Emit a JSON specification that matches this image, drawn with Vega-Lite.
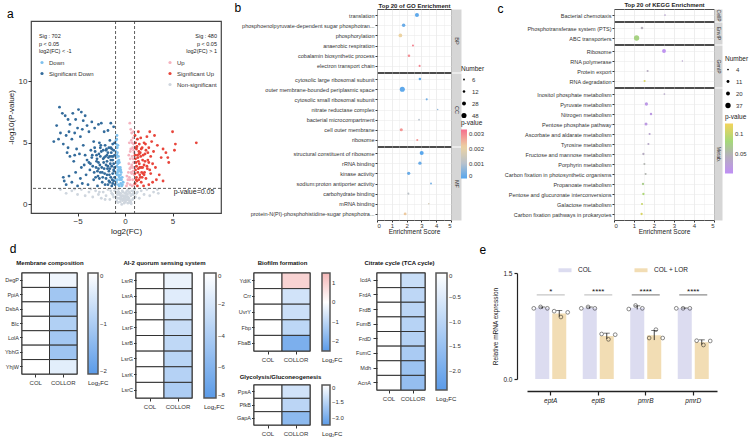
{
  "$schema": "https://vega.github.io/schema/vega-lite/v6.json",
  "background": "white",
  "padding": {"left": 3, "top": 0, "right": 0, "bottom": 0},
  "config": {
    "font": "Liberation Sans",
    "view": {"stroke": "#4d4d4d", "strokeWidth": 1},
    "axis": {"labelColor": "#333333", "titleColor": "#222222", "titleFontWeight": "normal", "labelFontSize": 6, "titleFontSize": 7, "tickColor": "#333333", "domainColor": "#333333", "gridColor": "#ebebeb", "gridWidth": 0.6},
    "legend": {"labelFontSize": 6, "titleFontSize": 6.5, "titleFontWeight": "normal", "labelColor": "#333333", "titleColor": "#222222"},
    "title": {"fontWeight": "normal", "color": "#000000"}
  },
  "datasets": {
    "volcano": [
      {"x":-6.8,"y":1.2,"c":"N"},{"x":-6.2,"y":0.9,"c":"N"},{"x":-5.6,"y":1.1,"c":"N"},{"x":-5.0,"y":0.8,"c":"N"},{"x":-4.6,"y":1.2,"c":"N"},{"x":-4.2,"y":0.7,"c":"N"},{"x":-3.8,"y":1.0,"c":"N"},{"x":-3.4,"y":0.6,"c":"N"},{"x":-3.1,"y":1.1,"c":"N"},{"x":-2.8,"y":0.8,"c":"N"},{"x":-2.5,"y":0.5,"c":"N"},{"x":-2.3,"y":1.0,"c":"N"},{"x":-2.0,"y":0.7,"c":"N"},{"x":-1.8,"y":1.2,"c":"N"},{"x":-1.6,"y":0.4,"c":"N"},{"x":-1.4,"y":0.9,"c":"N"},{"x":-1.2,"y":0.6,"c":"N"},{"x":-1.1,"y":1.1,"c":"N"},{"x":-0.9,"y":0.3,"c":"N"},{"x":-0.8,"y":0.8,"c":"N"},{"x":-0.7,"y":1.2,"c":"N"},{"x":-0.6,"y":0.5,"c":"N"},{"x":-0.5,"y":0.2,"c":"N"},{"x":-0.45,"y":0.9,"c":"N"},{"x":-0.4,"y":0.6,"c":"N"},{"x":-0.3,"y":1.1,"c":"N"},{"x":-0.25,"y":0.3,"c":"N"},{"x":-0.2,"y":0.7,"c":"N"},{"x":-0.1,"y":0.1,"c":"N"},{"x":-0.05,"y":0.5,"c":"N"},{"x":0.0,"y":0.9,"c":"N"},{"x":0.05,"y":0.2,"c":"N"},{"x":0.1,"y":0.6,"c":"N"},{"x":0.15,"y":1.0,"c":"N"},{"x":0.2,"y":0.4,"c":"N"},{"x":0.25,"y":0.8,"c":"N"},{"x":0.3,"y":0.1,"c":"N"},{"x":0.35,"y":1.2,"c":"N"},{"x":0.4,"y":0.5,"c":"N"},{"x":0.5,"y":0.9,"c":"N"},{"x":0.55,"y":0.3,"c":"N"},{"x":0.6,"y":0.7,"c":"N"},{"x":0.7,"y":1.1,"c":"N"},{"x":0.8,"y":0.4,"c":"N"},{"x":0.9,"y":0.8,"c":"N"},{"x":1.0,"y":1.2,"c":"N"},{"x":1.1,"y":0.6,"c":"N"},{"x":1.3,"y":1.0,"c":"N"},{"x":1.5,"y":0.5,"c":"N"},{"x":1.7,"y":1.1,"c":"N"},{"x":2.0,"y":0.8,"c":"N"},{"x":2.3,"y":1.2,"c":"N"},{"x":2.6,"y":0.7,"c":"N"},{"x":3.0,"y":1.0,"c":"N"},{"x":3.4,"y":1.2,"c":"N"},{"x":3.5,"y":0.9,"c":"N"},{"x":-0.35,"y":0.0,"c":"N"},{"x":0.45,"y":0.15,"c":"N"},{"x":-0.15,"y":0.4,"c":"N"},{"x":0.65,"y":0.05,"c":"N"},{"x":-0.55,"y":0.75,"c":"N"},{"x":0.85,"y":1.05,"c":"N"},{"x":-1.0,"y":1.25,"c":"N"},{"x":-3.6,"y":1.25,"c":"N"},{"x":-5.3,"y":1.25,"c":"N"},{"x":-0.75,"y":0.15,"c":"N"},{"x":0.12,"y":0.35,"c":"N"},{"x":-0.65,"y":1.0,"c":"N"},
      {"x":-0.95,"y":0.6,"c":"N"},{"x":-0.85,"y":1.0,"c":"N"},{"x":-0.75,"y":0.5,"c":"N"},{"x":-0.6,"y":0.9,"c":"N"},{"x":-0.45,"y":0.4,"c":"N"},{"x":-0.35,"y":0.7,"c":"N"},{"x":-0.2,"y":1.0,"c":"N"},{"x":-0.1,"y":0.6,"c":"N"},{"x":0.0,"y":0.3,"c":"N"},{"x":0.1,"y":0.9,"c":"N"},{"x":0.2,"y":1.1,"c":"N"},{"x":0.3,"y":0.6,"c":"N"},{"x":0.45,"y":1.0,"c":"N"},{"x":0.6,"y":0.2,"c":"N"},{"x":0.75,"y":0.8,"c":"N"},{"x":0.9,"y":0.5,"c":"N"},{"x":1.2,"y":0.9,"c":"N"},{"x":-1.3,"y":0.8,"c":"N"},{"x":-1.5,"y":1.1,"c":"N"},{"x":-2.1,"y":0.4,"c":"N"},{"x":-2.7,"y":1.0,"c":"N"},{"x":0.05,"y":0.7,"c":"N"},{"x":-0.3,"y":0.45,"c":"N"},{"x":0.35,"y":0.35,"c":"N"},
      {"x":0.5,"y":6.6,"c":"U"},{"x":0.6,"y":6.1,"c":"U"},{"x":0.7,"y":5.8,"c":"U"},{"x":0.85,"y":5.4,"c":"U"},{"x":0.9,"y":4.9,"c":"U"},{"x":0.95,"y":4.2,"c":"U"},{"x":0.8,"y":4.6,"c":"U"},{"x":0.75,"y":3.9,"c":"U"},{"x":0.7,"y":3.2,"c":"U"},{"x":0.65,"y":2.6,"c":"U"},{"x":0.6,"y":4.5,"c":"U"},{"x":0.55,"y":3.7,"c":"U"},{"x":0.5,"y":2.9,"c":"U"},{"x":0.45,"y":2.2,"c":"U"},{"x":0.4,"y":3.3,"c":"U"},{"x":0.35,"y":2.6,"c":"U"},{"x":0.3,"y":2.0,"c":"U"},{"x":0.25,"y":1.7,"c":"U"},{"x":0.2,"y":2.3,"c":"U"},{"x":0.15,"y":1.5,"c":"U"},{"x":0.9,"y":3.4,"c":"U"},{"x":0.85,"y":2.7,"c":"U"},{"x":0.8,"y":2.0,"c":"U"},{"x":0.95,"y":1.6,"c":"U"},{"x":0.65,"y":5.2,"c":"U"},{"x":0.4,"y":4.0,"c":"U"},{"x":0.55,"y":1.6,"c":"U"},{"x":0.75,"y":1.5,"c":"U"},{"x":0.98,"y":3.0,"c":"U"},{"x":0.45,"y":5.0,"c":"U"},
      {"x":0.9,"y":4.4,"c":"U"},{"x":0.85,"y":3.7,"c":"U"},{"x":0.8,"y":3.0,"c":"U"},{"x":0.7,"y":2.5,"c":"U"},{"x":0.6,"y":3.0,"c":"U"},{"x":0.5,"y":2.0,"c":"U"},{"x":0.95,"y":2.4,"c":"U"},{"x":0.75,"y":5.0,"c":"U"},{"x":0.55,"y":4.3,"c":"U"},{"x":0.88,"y":5.9,"c":"U"},
      {"x":1.05,"y":5.6,"c":"SU"},{"x":1.1,"y":5.0,"c":"SU"},{"x":1.2,"y":4.5,"c":"SU"},{"x":1.05,"y":4.0,"c":"SU"},{"x":1.15,"y":3.4,"c":"SU"},{"x":1.1,"y":2.8,"c":"SU"},{"x":1.2,"y":2.2,"c":"SU"},{"x":1.05,"y":1.7,"c":"SU"},{"x":1.3,"y":5.3,"c":"SU"},{"x":1.35,"y":3.8,"c":"SU"},{"x":1.4,"y":2.9,"c":"SU"},{"x":1.3,"y":1.5,"c":"SU"},{"x":1.5,"y":4.9,"c":"SU"},{"x":1.5,"y":3.3,"c":"SU"},{"x":1.55,"y":2.4,"c":"SU"},{"x":1.6,"y":4.2,"c":"SU"},{"x":1.7,"y":3.0,"c":"SU"},{"x":1.7,"y":1.8,"c":"SU"},{"x":1.8,"y":4.6,"c":"SU"},{"x":1.85,"y":3.6,"c":"SU"},{"x":1.9,"y":2.5,"c":"SU"},{"x":2.0,"y":5.0,"c":"SU"},{"x":2.0,"y":3.2,"c":"SU"},{"x":2.1,"y":4.1,"c":"SU"},{"x":2.2,"y":2.1,"c":"SU"},{"x":2.3,"y":5.5,"c":"SU"},{"x":2.4,"y":3.6,"c":"SU"},{"x":2.5,"y":4.6,"c":"SU"},{"x":2.6,"y":2.8,"c":"SU"},{"x":2.7,"y":3.9,"c":"SU"},{"x":2.8,"y":5.1,"c":"SU"},{"x":2.9,"y":1.8,"c":"SU"},{"x":3.0,"y":4.3,"c":"SU"},{"x":3.2,"y":3.0,"c":"SU"},{"x":3.4,"y":4.8,"c":"SU"},{"x":3.6,"y":2.4,"c":"SU"},{"x":3.8,"y":3.8,"c":"SU"},{"x":4.0,"y":4.5,"c":"SU"},{"x":4.3,"y":4.2,"c":"SU"},{"x":4.5,"y":3.8,"c":"SU"},{"x":4.6,"y":3.4,"c":"SU"},{"x":5.0,"y":5.9,"c":"SU"},{"x":5.2,"y":4.4,"c":"SU"},{"x":5.3,"y":4.9,"c":"SU"},{"x":7.5,"y":5.0,"c":"SU"},{"x":4.0,"y":1.9,"c":"SU"},{"x":3.3,"y":2.0,"c":"SU"},{"x":2.5,"y":1.6,"c":"SU"},{"x":1.25,"y":4.7,"c":"SU"},{"x":1.45,"y":4.3,"c":"SU"},{"x":1.65,"y":5.4,"c":"SU"},{"x":2.15,"y":4.9,"c":"SU"},{"x":1.95,"y":1.5,"c":"SU"},{"x":1.15,"y":2.0,"c":"SU"},{"x":3.1,"y":5.6,"c":"SU"},{"x":2.6,"y":5.9,"c":"SU"},{"x":1.4,"y":5.9,"c":"SU"},{"x":1.75,"y":2.6,"c":"SU"},{"x":2.35,"y":2.9,"c":"SU"},{"x":2.05,"y":2.6,"c":"SU"},
      {"x":1.05,"y":2.5,"c":"SU"},{"x":1.1,"y":3.7,"c":"SU"},{"x":1.15,"y":4.6,"c":"SU"},{"x":1.2,"y":3.1,"c":"SU"},{"x":1.25,"y":1.9,"c":"SU"},{"x":1.3,"y":4.0,"c":"SU"},{"x":1.35,"y":2.6,"c":"SU"},{"x":1.4,"y":3.5,"c":"SU"},{"x":1.45,"y":2.0,"c":"SU"},{"x":1.5,"y":4.1,"c":"SU"},{"x":1.55,"y":3.0,"c":"SU"},{"x":1.6,"y":2.2,"c":"SU"},{"x":1.65,"y":3.9,"c":"SU"},{"x":1.7,"y":4.5,"c":"SU"},{"x":1.8,"y":2.2,"c":"SU"},{"x":1.85,"y":3.0,"c":"SU"},{"x":1.9,"y":4.0,"c":"SU"},{"x":2.0,"y":2.4,"c":"SU"},{"x":2.1,"y":3.5,"c":"SU"},{"x":2.2,"y":4.4,"c":"SU"},{"x":2.3,"y":3.1,"c":"SU"},{"x":2.4,"y":4.2,"c":"SU"},{"x":2.5,"y":3.4,"c":"SU"},{"x":2.7,"y":2.5,"c":"SU"},{"x":2.9,"y":3.3,"c":"SU"},
      {"x":-0.95,"y":5.2,"c":"D"},{"x":-0.9,"y":4.6,"c":"D"},{"x":-0.92,"y":3.8,"c":"D"},{"x":-0.88,"y":3.1,"c":"D"},{"x":-0.85,"y":2.4,"c":"D"},{"x":-0.9,"y":1.8,"c":"D"},{"x":-0.8,"y":4.2,"c":"D"},{"x":-0.78,"y":3.5,"c":"D"},{"x":-0.75,"y":2.8,"c":"D"},{"x":-0.8,"y":2.0,"c":"D"},{"x":-0.7,"y":3.9,"c":"D"},{"x":-0.68,"y":3.0,"c":"D"},{"x":-0.65,"y":2.3,"c":"D"},{"x":-0.7,"y":1.6,"c":"D"},{"x":-0.6,"y":3.4,"c":"D"},{"x":-0.58,"y":2.7,"c":"D"},{"x":-0.55,"y":2.0,"c":"D"},{"x":-0.5,"y":3.0,"c":"D"},{"x":-0.48,"y":2.4,"c":"D"},{"x":-0.45,"y":1.7,"c":"D"},{"x":-0.4,"y":2.6,"c":"D"},{"x":-0.38,"y":2.0,"c":"D"},{"x":-0.3,"y":2.2,"c":"D"},{"x":-0.28,"y":1.6,"c":"D"},{"x":-0.2,"y":1.8,"c":"D"},{"x":-0.85,"y":5.6,"c":"D"},{"x":-0.98,"y":4.3,"c":"D"},{"x":-0.62,"y":1.5,"c":"D"},{"x":-0.35,"y":1.5,"c":"D"},{"x":-0.75,"y":4.8,"c":"D"},
      {"x":-0.95,"y":2.5,"c":"D"},{"x":-0.9,"y":3.4,"c":"D"},{"x":-0.85,"y":4.0,"c":"D"},{"x":-0.8,"y":2.6,"c":"D"},{"x":-0.75,"y":3.3,"c":"D"},{"x":-0.7,"y":2.4,"c":"D"},{"x":-0.65,"y":3.6,"c":"D"},{"x":-0.6,"y":2.2,"c":"D"},{"x":-0.55,"y":2.9,"c":"D"},{"x":-0.5,"y":2.1,"c":"D"},{"x":-0.45,"y":2.8,"c":"D"},{"x":-0.97,"y":2.0,"c":"D"},{"x":-0.93,"y":4.9,"c":"D"},{"x":-0.88,"y":5.3,"c":"D"},{"x":-0.82,"y":4.6,"c":"D"},
      {"x":-7.5,"y":5.1,"c":"SD"},{"x":-7.2,"y":6.4,"c":"SD"},{"x":-6.9,"y":7.9,"c":"SD"},{"x":-6.6,"y":7.4,"c":"SD"},{"x":-6.3,"y":7.2,"c":"SD"},{"x":-6.0,"y":6.9,"c":"SD"},{"x":-5.8,"y":6.5,"c":"SD"},{"x":-5.5,"y":7.4,"c":"SD"},{"x":-5.2,"y":6.9,"c":"SD"},{"x":-4.9,"y":7.7,"c":"SD"},{"x":-4.6,"y":7.5,"c":"SD"},{"x":-4.4,"y":6.8,"c":"SD"},{"x":-4.2,"y":7.2,"c":"SD"},{"x":-5.9,"y":5.9,"c":"SD"},{"x":-6.2,"y":5.6,"c":"SD"},{"x":-6.8,"y":5.8,"c":"SD"},{"x":-7.0,"y":5.3,"c":"SD"},{"x":-6.5,"y":4.9,"c":"SD"},{"x":-6.0,"y":4.6,"c":"SD"},{"x":-5.6,"y":5.3,"c":"SD"},{"x":-5.3,"y":5.8,"c":"SD"},{"x":-5.0,"y":6.2,"c":"SD"},{"x":-4.7,"y":5.5,"c":"SD"},{"x":-4.5,"y":6.1,"c":"SD"},{"x":-4.0,"y":6.4,"c":"SD"},{"x":-3.8,"y":5.9,"c":"SD"},{"x":-3.5,"y":6.7,"c":"SD"},{"x":-3.2,"y":6.2,"c":"SD"},{"x":-2.8,"y":6.5,"c":"SD"},{"x":-2.5,"y":6.6,"c":"SD"},{"x":-2.2,"y":5.9,"c":"SD"},{"x":-1.8,"y":6.0,"c":"SD"},{"x":-1.5,"y":6.6,"c":"SD"},{"x":-1.2,"y":6.3,"c":"SD"},
      {"x":-6.5,"y":2.2,"c":"SD"},{"x":-6.4,"y":1.9,"c":"SD"},{"x":-6.2,"y":1.6,"c":"SD"},{"x":-5.9,"y":2.3,"c":"SD"},{"x":-5.6,"y":1.8,"c":"SD"},{"x":-5.2,"y":2.6,"c":"SD"},{"x":-5.0,"y":1.5,"c":"SD"},{"x":-4.7,"y":2.1,"c":"SD"},{"x":-4.5,"y":1.7,"c":"SD"},{"x":-4.3,"y":3.2,"c":"SD"},{"x":-4.1,"y":2.4,"c":"SD"},{"x":-5.4,"y":3.5,"c":"SD"},{"x":-5.8,"y":3.9,"c":"SD"},{"x":-6.1,"y":4.2,"c":"SD"},{"x":-5.1,"y":4.5,"c":"SD"},{"x":-4.8,"y":4.1,"c":"SD"},{"x":-4.4,"y":4.8,"c":"SD"},{"x":-4.0,"y":3.6,"c":"SD"},{"x":-3.9,"y":1.6,"c":"SD"},{"x":-3.7,"y":2.8,"c":"SD"},{"x":-3.6,"y":4.4,"c":"SD"},{"x":-3.4,"y":3.1,"c":"SD"},{"x":-3.3,"y":5.1,"c":"SD"},{"x":-3.1,"y":2.2,"c":"SD"},{"x":-3.0,"y":4.0,"c":"SD"},{"x":-2.9,"y":1.5,"c":"SD"},{"x":-2.8,"y":3.4,"c":"SD"},{"x":-2.7,"y":5.0,"c":"SD"},{"x":-2.6,"y":2.6,"c":"SD"},{"x":-2.5,"y":4.3,"c":"SD"},{"x":-2.4,"y":1.8,"c":"SD"},{"x":-2.3,"y":3.7,"c":"SD"},{"x":-2.2,"y":2.9,"c":"SD"},{"x":-2.1,"y":4.8,"c":"SD"},{"x":-2.0,"y":2.1,"c":"SD"},{"x":-1.9,"y":3.5,"c":"SD"},{"x":-1.8,"y":4.2,"c":"SD"},{"x":-1.8,"y":1.6,"c":"SD"},{"x":-1.7,"y":2.7,"c":"SD"},{"x":-1.6,"y":3.9,"c":"SD"},{"x":-1.6,"y":5.2,"c":"SD"},{"x":-1.5,"y":2.2,"c":"SD"},{"x":-1.5,"y":4.6,"c":"SD"},{"x":-1.4,"y":3.1,"c":"SD"},{"x":-1.4,"y":1.5,"c":"SD"},{"x":-1.3,"y":3.6,"c":"SD"},{"x":-1.3,"y":2.5,"c":"SD"},{"x":-1.2,"y":4.4,"c":"SD"},{"x":-1.2,"y":1.9,"c":"SD"},{"x":-1.1,"y":3.0,"c":"SD"},{"x":-1.1,"y":5.0,"c":"SD"},{"x":-1.1,"y":2.2,"c":"SD"},{"x":-3.5,"y":3.8,"c":"SD"},{"x":-3.2,"y":4.6,"c":"SD"},{"x":-2.9,"y":2.7,"c":"SD"},{"x":-2.6,"y":3.9,"c":"SD"},{"x":-2.3,"y":4.4,"c":"SD"},{"x":-2.0,"y":3.2,"c":"SD"},{"x":-1.9,"y":2.4,"c":"SD"},{"x":-1.7,"y":4.6,"c":"SD"},{"x":-1.4,"y":3.9,"c":"SD"},{"x":-1.3,"y":4.9,"c":"SD"},{"x":-1.2,"y":3.3,"c":"SD"},{"x":-4.2,"y":4.0,"c":"SD"},{"x":-3.8,"y":3.4,"c":"SD"},{"x":-4.6,"y":3.0,"c":"SD"},{"x":-5.3,"y":4.0,"c":"SD"},{"x":-3.3,"y":2.0,"c":"SD"},{"x":-2.7,"y":2.1,"c":"SD"},{"x":-2.1,"y":1.6,"c":"SD"},{"x":-1.6,"y":1.8,"c":"SD"},
      {"x":-1.05,"y":1.6,"c":"SD"},{"x":-1.15,"y":2.7,"c":"SD"},{"x":-1.25,"y":3.9,"c":"SD"},{"x":-1.35,"y":2.0,"c":"SD"},{"x":-1.45,"y":4.2,"c":"SD"},{"x":-1.55,"y":3.3,"c":"SD"},{"x":-1.65,"y":2.4,"c":"SD"},{"x":-1.75,"y":3.8,"c":"SD"},{"x":-1.85,"y":2.9,"c":"SD"},{"x":-1.95,"y":4.5,"c":"SD"},{"x":-2.05,"y":3.9,"c":"SD"},{"x":-2.15,"y":2.5,"c":"SD"},{"x":-2.25,"y":3.4,"c":"SD"},{"x":-2.35,"y":2.2,"c":"SD"},{"x":-2.45,"y":3.0,"c":"SD"},{"x":-2.55,"y":4.8,"c":"SD"},{"x":-2.65,"y":3.2,"c":"SD"},{"x":-2.75,"y":4.1,"c":"SD"},{"x":-2.85,"y":2.3,"c":"SD"},{"x":-2.95,"y":3.7,"c":"SD"},{"x":-3.05,"y":3.0,"c":"SD"},{"x":-3.15,"y":4.3,"c":"SD"},{"x":-3.25,"y":2.6,"c":"SD"},{"x":-3.45,"y":4.0,"c":"SD"},{"x":-3.65,"y":3.3,"c":"SD"},{"x":-1.1,"y":4.0,"c":"SD"},{"x":-1.2,"y":2.8,"c":"SD"},{"x":-1.3,"y":1.7,"c":"SD"},{"x":-1.4,"y":4.5,"c":"SD"},{"x":-1.5,"y":3.6,"c":"SD"},{"x":-1.6,"y":2.9,"c":"SD"},{"x":-1.7,"y":1.9,"c":"SD"},{"x":-1.8,"y":3.1,"c":"SD"},{"x":-1.9,"y":4.0,"c":"SD"},{"x":-2.0,"y":4.4,"c":"SD"},{"x":-2.2,"y":3.8,"c":"SD"},{"x":-2.4,"y":2.6,"c":"SD"},{"x":-2.6,"y":4.6,"c":"SD"},{"x":-2.8,"y":2.9,"c":"SD"},{"x":-3.0,"y":3.5,"c":"SD"}
    ],
    "go": [
      {"t":"translation","cat":"BP","s":2.7,"n":30,"p":0.0001},
      {"t":"phosphoenolpyruvate-dependent sugar phosphotran...","cat":"BP","s":1.8,"n":22,"p":0.0002},
      {"t":"phosphorylation","cat":"BP","s":1.58,"n":25,"p":0.0021},
      {"t":"anaerobic respiration","cat":"BP","s":2.43,"n":8,"p":0.003},
      {"t":"cobalamin biosynthetic process","cat":"BP","s":2.16,"n":12,"p":0.0029},
      {"t":"electron transport chain","cat":"BP","s":2.88,"n":8,"p":0.003},
      {"t":"cytosolic large ribosomal subunit","cat":"CC","s":2.9,"n":12,"p":0.0001},
      {"t":"outer membrane-bounded periplasmic space","cat":"CC","s":1.71,"n":48,"p":0.0001},
      {"t":"cytosolic small ribosomal subunit","cat":"CC","s":3.36,"n":8,"p":0.0003},
      {"t":"nitrate reductase complex","cat":"CC","s":4.1,"n":4,"p":0.0006},
      {"t":"bacterial microcompartment","cat":"CC","s":2.84,"n":6,"p":0.001},
      {"t":"cell outer membrane","cat":"CC","s":1.64,"n":18,"p":0.0028},
      {"t":"ribosome","cat":"CC","s":2.72,"n":8,"p":0.0028},
      {"t":"structural constituent of ribosome","cat":"MF","s":3.02,"n":30,"p":0.00005},
      {"t":"rRNA binding","cat":"MF","s":2.9,"n":20,"p":0.0002},
      {"t":"kinase activity","cat":"MF","s":2.14,"n":20,"p":0.0002},
      {"t":"sodium:proton antiporter activity","cat":"MF","s":3.65,"n":6,"p":0.0003},
      {"t":"carbohydrate binding","cat":"MF","s":2.12,"n":8,"p":0.0011},
      {"t":"mRNA binding","cat":"MF","s":3.5,"n":5,"p":0.0016},
      {"t":"protein-N(PI)-phosphohistidine-sugar phosphotra...","cat":"MF","s":1.9,"n":15,"p":0.0022}
    ],
    "kegg": [
      {"t":"Bacterial chemotaxis","cat":"CellP","s":2.55,"n":4,"p":0.03},
      {"t":"Phosphotransferase system (PTS)","cat":"EnvIP","s":1.4,"n":9,"p":0.045},
      {"t":"ABC transporters","cat":"EnvIP","s":1.13,"n":37,"p":0.075},
      {"t":"Ribosome","cat":"GenIP","s":2.5,"n":20,"p":0.005},
      {"t":"RNA polymerase","cat":"GenIP","s":3.42,"n":3,"p":0.03},
      {"t":"Protein export","cat":"GenIP","s":1.68,"n":6,"p":0.04},
      {"t":"RNA degradation","cat":"GenIP","s":1.53,"n":6,"p":0.11},
      {"t":"Inositol phosphate metabolism","cat":"Metab","s":2.52,"n":4,"p":0.035},
      {"t":"Pyruvate metabolism","cat":"Metab","s":1.62,"n":14,"p":0.012},
      {"t":"Nitrogen metabolism","cat":"Metab","s":1.85,"n":8,"p":0.015},
      {"t":"Pentose phosphate pathway","cat":"Metab","s":1.6,"n":12,"p":0.015},
      {"t":"Ascorbate and aldarate metabolism","cat":"Metab","s":1.78,"n":6,"p":0.03},
      {"t":"Tyrosine metabolism","cat":"Metab","s":1.72,"n":6,"p":0.035},
      {"t":"Fructose and mannose metabolism","cat":"Metab","s":1.47,"n":7,"p":0.04},
      {"t":"Porphyrin metabolism","cat":"Metab","s":1.52,"n":6,"p":0.05},
      {"t":"Carbon fixation in photosynthetic organisms","cat":"Metab","s":1.58,"n":6,"p":0.05},
      {"t":"Propanoate metabolism","cat":"Metab","s":1.45,"n":7,"p":0.07},
      {"t":"Pentose and glucuronate interconversions","cat":"Metab","s":1.47,"n":7,"p":0.085},
      {"t":"Galactose metabolism","cat":"Metab","s":1.4,"n":6,"p":0.1},
      {"t":"Carbon fixation pathways in prokaryotes","cat":"Metab","s":1.38,"n":7,"p":0.11}
    ]
  },
  "columns": 1,
  "align": "none",
  "spacing": 5,
  "resolve": {"scale": {"color": "independent", "size": "independent"}},
  "concat": [
    {
      "spacing": -20,
      "resolve": {"scale": {"color": "independent", "size": "independent"}},
      "hconcat": [
        {"width": 1, "height": 1, "view": {"stroke": null}, "data": {"values": [{}]}, "mark": {"type": "point", "opacity": 0}},
        {
          "spacing": 11,
          "resolve": {"scale": {"color": "independent", "size": "independent"}},
          "hconcat": [
            {
              "spacing": -6,
              "vconcat": [
                {"width": 1, "height": 1, "view": {"stroke": null}, "data": {"values": [{}]}, "mark": {"type": "point", "opacity": 0}},
                {
                  "width": 190, "height": 192,
                  "title": {"text": "a", "anchor": "start", "frame": "bounds", "fontSize": 12, "offset": 0},
                  "data": {"name": "volcano"},
                  "view": {"stroke": "#444444", "strokeWidth": 1.2},
                  "resolve": {"scale": {"color": "independent"}},
                  "layer": [
                    {
                      "transform": [{"filter": "datum.c == 'N' || datum.c == 'U' || datum.c == 'SU'"}],
                      "mark": {"type": "circle", "size": 8, "opacity": 1},
                      "encoding": {
                        "x": {"field": "x", "type": "quantitative", "scale": {"domain": [-9.9, 10.1], "nice": false, "zero": false}, "axis": {"values": [-5, 0, 5], "title": "log2(FC)", "titleFontSize": 8, "labelFontSize": 8, "tickSize": 3, "domain": false, "grid": false, "titlePadding": 2, "labelPadding": 1}},
                        "y": {"field": "y", "type": "quantitative", "scale": {"domain": [-0.7, 14.9], "nice": false, "zero": false}, "axis": {"values": [0, 5, 10], "title": "-log10(P-value)", "titleFontSize": 8, "labelFontSize": 8, "tickSize": 3, "domain": false, "grid": false, "titlePadding": 3, "labelPadding": 1}},
                        "color": {"field": "c", "type": "nominal", "scale": {"domain": ["U", "SU", "N"], "range": ["#f5b3bf", "#e8453b", "#cfd6de"]},
                          "legend": {"orient": "none", "legendX": 136, "legendY": 13, "title": ["Sig : 480", "p < 0.05", "log2(FC) > 1"], "titleFontSize": 5.5, "titleLineHeight": 7.5, "titleAlign": "right", "titleAnchor": "end", "titlePadding": 5, "labelFontSize": 6, "symbolType": "circle", "symbolSize": 10, "symbolStrokeWidth": 0, "rowPadding": 5, "labelExpr": "datum.label == 'U' ? 'Up' : datum.label == 'SU' ? 'Significant Up' : 'Non-significant'"}}
                      }
                    },
                    {
                      "transform": [{"filter": "datum.c == 'D' || datum.c == 'SD'"}],
                      "mark": {"type": "circle", "size": 8, "opacity": 1},
                      "encoding": {
                        "x": {"field": "x", "type": "quantitative"},
                        "y": {"field": "y", "type": "quantitative"},
                        "color": {"field": "c", "type": "nominal", "scale": {"domain": ["D", "SD"], "range": ["#7fc1ee", "#336b9b"]},
                          "legend": {"orient": "none", "legendX": 8, "legendY": 13, "title": ["Sig : 702", "p < 0.05", "log2(FC) < -1"], "titleFontSize": 5.5, "titleLineHeight": 7.5, "titlePadding": 5, "labelFontSize": 6, "symbolType": "circle", "symbolSize": 10, "symbolStrokeWidth": 0, "rowPadding": 5, "labelExpr": "datum.label == 'D' ? 'Down' : 'Significant Down'"}}
                      }
                    },
                    {"data": {"values": [{}]}, "mark": {"type": "rule", "strokeDash": [3, 2], "color": "#333333", "strokeWidth": 0.8}, "encoding": {"x": {"datum": -1}}},
                    {"data": {"values": [{}]}, "mark": {"type": "rule", "strokeDash": [3, 2], "color": "#333333", "strokeWidth": 0.8}, "encoding": {"x": {"datum": 1}}},
                    {"data": {"values": [{}]}, "mark": {"type": "rule", "strokeDash": [3, 2], "color": "#333333", "strokeWidth": 0.8}, "encoding": {"y": {"datum": 1.3}}},
                    {"data": {"values": [{}]}, "mark": {"type": "text", "align": "right", "baseline": "top", "fontSize": 7, "color": "#222222", "dy": 0}, "encoding": {"x": {"datum": 9.4}, "y": {"datum": 1.3}, "text": {"value": "p-value=0.05"}}}
                  ]
                }
              ]
            },
            {
              "spacing": -4.5,
              "vconcat": [
                {
                  "width": 74, "height": 63,
                  "data": {"name": "go"},
                  "transform": [{"filter": "datum.cat == 'BP'"}],
                  "resolve": {"axis": {"y": "independent"}},
                  "layer": [
                    {
                      "mark": {"type": "circle", "opacity": 1},
                      "encoding": {
                        "x": {"field": "s", "type": "quantitative", "scale": {"domain": [0, 5], "nice": false}, "axis": {"values": [0,0.5,1,1.5,2,2.5,3,3.5,4,4.5,5], "labels": false, "ticks": false, "domain": false, "grid": true, "gridColor": {"condition": {"test": "datum.value % 1 === 0", "value": "#e2e2e2"}, "value": "#f0f0f0"}, "title": "Top 20 of GO Enrichment", "titleX": 37, "titleY": -64.5, "titleAlign": "center", "titleBaseline": "alphabetic", "titleFontSize": 6, "titleFontWeight": "bold", "titleColor": "#222222"}},
                        "y": {"field": "t", "type": "nominal", "sort": null, "scale": {"type": "point", "padding": 0.6}, "axis": {"title": "b", "titleX": -143, "titleY": 2, "titleAngle": 0, "titleAlign": "left", "titleBaseline": "alphabetic", "titleFontSize": 12, "titleColor": "#000000", "titlePadding": 0, "labelFontSize": 5.5, "labelLimit": 200, "tickSize": 2, "labelPadding": 1, "domain": false, "grid": true}},
                        "size": {"field": "n", "type": "quantitative", "scale": {"domain": [0, 48], "range": [0, 26]}, "legend": {"orient": "none", "legendX": 84, "legendY": 57, "title": "Number", "values": [6, 12, 28, 48], "symbolType": "circle", "symbolFillColor": "#000000", "symbolStrokeWidth": 0, "rowPadding": 6, "labelFontSize": 6, "titleFontSize": 6.5, "titlePadding": 4, "labelOffset": 5}},
                        "color": {"field": "p", "type": "quantitative", "scale": {"domain": [0, 0.001, 0.0021, 0.00327], "range": ["#55a6ee", "#b7c1cd", "#ecd3a2", "#f76e8d"], "interpolate": "rgb"}, "legend": {"orient": "none", "legendX": 84, "legendY": 111, "title": "p-value", "type": "gradient", "gradientLength": 49, "gradientThickness": 6, "gradientStrokeWidth": 0, "values": [0, 0.001, 0.002, 0.003], "labelExpr": "datum.value == 0 ? '0' : format(datum.value, '.3f')", "labelOverlap": false, "labelFontSize": 6, "titleFontSize": 6.5, "titlePadding": 3}}
                      }
                    },
                    {
                      "mark": {"type": "point", "opacity": 0},
                      "encoding": {"y": {"field": "t", "type": "nominal", "sort": null, "axis": {"orient": "right", "labels": false, "ticks": false, "grid": false, "domain": true, "domainColor": "#d6d6d6", "domainWidth": 10, "offset": 5, "title": "BP", "titleAngle": 90, "titleX": 0, "titleY": 31.5, "titleAlign": "center", "titleBaseline": "middle", "titleFontSize": 5.5, "titleColor": "#333333"}}}
                    }
                  ]
                },
                {
                  "width": 74, "height": 73,
                  "data": {"name": "go"},
                  "transform": [{"filter": "datum.cat == 'CC'"}],
                  "resolve": {"axis": {"y": "independent"}},
                  "layer": [
                    {
                      "mark": {"type": "circle", "opacity": 1},
                      "encoding": {
                        "x": {"field": "s", "type": "quantitative", "scale": {"domain": [0, 5], "nice": false}, "axis": {"values": [0,0.5,1,1.5,2,2.5,3,3.5,4,4.5,5], "labels": false, "ticks": false, "domain": false, "grid": true, "gridColor": {"condition": {"test": "datum.value % 1 === 0", "value": "#e2e2e2"}, "value": "#f0f0f0"}, "title": null}},
                        "y": {"field": "t", "type": "nominal", "sort": null, "scale": {"type": "point", "padding": 0.6}, "axis": {"title": null, "labelFontSize": 5.5, "labelLimit": 200, "tickSize": 2, "labelPadding": 1, "domain": false, "grid": true}},
                        "size": {"field": "n", "type": "quantitative", "scale": {"domain": [0, 48], "range": [0, 26]}},
                        "color": {"field": "p", "type": "quantitative", "scale": {"domain": [0, 0.001, 0.0021, 0.00327], "range": ["#55a6ee", "#b7c1cd", "#ecd3a2", "#f76e8d"], "interpolate": "rgb"}}
                      }
                    },
                    {
                      "mark": {"type": "point", "opacity": 0},
                      "encoding": {"y": {"field": "t", "type": "nominal", "sort": null, "axis": {"orient": "right", "labels": false, "ticks": false, "grid": false, "domain": true, "domainColor": "#d6d6d6", "domainWidth": 10, "offset": 5, "title": "CC", "titleAngle": 90, "titleX": 0, "titleY": 36.5, "titleAlign": "center", "titleBaseline": "middle", "titleFontSize": 5.5, "titleColor": "#333333"}}}
                    }
                  ]
                },
                {
                  "width": 74, "height": 73,
                  "data": {"name": "go"},
                  "transform": [{"filter": "datum.cat == 'MF'"}],
                  "resolve": {"axis": {"y": "independent"}},
                  "layer": [
                    {
                      "mark": {"type": "circle", "opacity": 1},
                      "encoding": {
                        "x": {"field": "s", "type": "quantitative", "scale": {"domain": [0, 5], "nice": false}, "axis": {"values": [0,0.5,1,1.5,2,2.5,3,3.5,4,4.5,5], "labelExpr": "datum.value % 1 === 0 ? format(datum.value, 'd') : ''", "labelOverlap": false, "labelFontSize": 6, "labelPadding": 0, "tickSize": 2, "tickOpacity": {"condition": {"test": "datum.value % 1 === 0", "value": 1}, "value": 0}, "domain": false, "grid": true, "gridColor": {"condition": {"test": "datum.value % 1 === 0", "value": "#e2e2e2"}, "value": "#f0f0f0"}, "title": "Enrichment Score", "titleFontSize": 6.5, "titlePadding": 0}},
                        "y": {"field": "t", "type": "nominal", "sort": null, "scale": {"type": "point", "padding": 0.6}, "axis": {"title": null, "labelFontSize": 5.5, "labelLimit": 200, "tickSize": 2, "labelPadding": 1, "domain": false, "grid": true}},
                        "size": {"field": "n", "type": "quantitative", "scale": {"domain": [0, 48], "range": [0, 26]}},
                        "color": {"field": "p", "type": "quantitative", "scale": {"domain": [0, 0.001, 0.0021, 0.00327], "range": ["#55a6ee", "#b7c1cd", "#ecd3a2", "#f76e8d"], "interpolate": "rgb"}}
                      }
                    },
                    {
                      "mark": {"type": "point", "opacity": 0},
                      "encoding": {"y": {"field": "t", "type": "nominal", "sort": null, "axis": {"orient": "right", "labels": false, "ticks": false, "grid": false, "domain": true, "domainColor": "#d6d6d6", "domainWidth": 10, "offset": 5, "title": "MF", "titleAngle": 90, "titleX": 0, "titleY": 36.5, "titleAlign": "center", "titleBaseline": "middle", "titleFontSize": 5.5, "titleColor": "#333333"}}}
                    }
                  ]
                }
              ]
            },
            {
              "spacing": -5,
              "vconcat": [
                {
                  "width": 100, "height": 12,
                  "data": {"name": "kegg"},
                  "transform": [{"filter": "datum.cat == 'CellP'"}],
                  "resolve": {"axis": {"y": "independent"}},
                  "layer": [
                    {
                      "mark": {"type": "circle", "opacity": 1},
                      "encoding": {
                        "x": {"field": "s", "type": "quantitative", "scale": {"domain": [0, 5], "nice": false}, "axis": {"values": [0,0.5,1,1.5,2,2.5,3,3.5,4,4.5,5], "labels": false, "ticks": false, "domain": false, "grid": true, "gridColor": {"condition": {"test": "datum.value % 1 === 0", "value": "#e2e2e2"}, "value": "#f0f0f0"}, "title": "Top 20 of KEGG Enrichment", "titleX": 50, "titleY": -14.5, "titleAlign": "center", "titleBaseline": "alphabetic", "titleFontSize": 6, "titleFontWeight": "bold", "titleColor": "#222222"}},
                        "y": {"field": "t", "type": "nominal", "sort": null, "scale": {"type": "point", "padding": 0.6}, "axis": {"title": "c", "titleX": -117, "titleY": 3, "titleAngle": 0, "titleAlign": "left", "titleBaseline": "alphabetic", "titleFontSize": 12, "titleColor": "#000000", "titlePadding": 0, "labelFontSize": 5.5, "labelLimit": 200, "tickSize": 2, "labelPadding": 1, "domain": false, "grid": true}},
                        "size": {"field": "n", "type": "quantitative", "scale": {"domain": [0, 37], "range": [0, 28]}, "legend": {"orient": "none", "legendX": 111, "legendY": 47, "title": "Number", "values": [4, 11, 20, 37], "symbolType": "circle", "symbolFillColor": "#000000", "symbolStrokeWidth": 0, "rowPadding": 6, "labelFontSize": 6, "titleFontSize": 6.5, "titlePadding": 4, "labelOffset": 5}},
                        "color": {"field": "p", "type": "quantitative", "scale": {"domain": [0, 0.045, 0.08, 0.125], "range": ["#bf8ff5", "#b5b0bb", "#a5d87a", "#f3d35c"], "interpolate": "rgb"}, "legend": {"orient": "none", "legendX": 111, "legendY": 105, "title": "p-value", "type": "gradient", "gradientLength": 50, "gradientThickness": 8, "gradientStrokeWidth": 0, "values": [0.05, 0.1], "format": ".2~f", "labelOverlap": false, "labelFontSize": 6, "titleFontSize": 6.5, "titlePadding": 3}}
                      }
                    },
                    {
                      "mark": {"type": "point", "opacity": 0},
                      "encoding": {"y": {"field": "t", "type": "nominal", "sort": null, "axis": {"orient": "right", "labels": false, "ticks": false, "grid": false, "domain": true, "domainColor": "#d6d6d6", "domainWidth": 8, "offset": 4, "title": "CellP", "titleLimit": 12, "titleAngle": 90, "titleX": 0, "titleY": 6, "titleAlign": "center", "titleBaseline": "middle", "titleFontSize": 5, "titleColor": "#333333"}}}
                    }
                  ]
                },
                {
                  "width": 100, "height": 22,
                  "data": {"name": "kegg"},
                  "transform": [{"filter": "datum.cat == 'EnvIP'"}],
                  "resolve": {"axis": {"y": "independent"}},
                  "layer": [
                    {
                      "mark": {"type": "circle", "opacity": 1},
                      "encoding": {
                        "x": {"field": "s", "type": "quantitative", "scale": {"domain": [0, 5], "nice": false}, "axis": {"values": [0,0.5,1,1.5,2,2.5,3,3.5,4,4.5,5], "labels": false, "ticks": false, "domain": false, "grid": true, "gridColor": {"condition": {"test": "datum.value % 1 === 0", "value": "#e2e2e2"}, "value": "#f0f0f0"}, "title": null}},
                        "y": {"field": "t", "type": "nominal", "sort": null, "scale": {"type": "point", "padding": 0.6}, "axis": {"title": null, "labelFontSize": 5.5, "labelLimit": 200, "tickSize": 2, "labelPadding": 1, "domain": false, "grid": true}},
                        "size": {"field": "n", "type": "quantitative", "scale": {"domain": [0, 37], "range": [0, 28]}},
                        "color": {"field": "p", "type": "quantitative", "scale": {"domain": [0, 0.045, 0.08, 0.125], "range": ["#bf8ff5", "#b5b0bb", "#a5d87a", "#f3d35c"], "interpolate": "rgb"}}
                      }
                    },
                    {
                      "mark": {"type": "point", "opacity": 0},
                      "encoding": {"y": {"field": "t", "type": "nominal", "sort": null, "axis": {"orient": "right", "labels": false, "ticks": false, "grid": false, "domain": true, "domainColor": "#d6d6d6", "domainWidth": 8, "offset": 4, "title": "EnvIP", "titleLimit": 22, "titleAngle": 90, "titleX": 0, "titleY": 11, "titleAlign": "center", "titleBaseline": "middle", "titleFontSize": 5, "titleColor": "#333333"}}}
                    }
                  ]
                },
                {
                  "width": 100, "height": 42,
                  "data": {"name": "kegg"},
                  "transform": [{"filter": "datum.cat == 'GenIP'"}],
                  "resolve": {"axis": {"y": "independent"}},
                  "layer": [
                    {
                      "mark": {"type": "circle", "opacity": 1},
                      "encoding": {
                        "x": {"field": "s", "type": "quantitative", "scale": {"domain": [0, 5], "nice": false}, "axis": {"values": [0,0.5,1,1.5,2,2.5,3,3.5,4,4.5,5], "labels": false, "ticks": false, "domain": false, "grid": true, "gridColor": {"condition": {"test": "datum.value % 1 === 0", "value": "#e2e2e2"}, "value": "#f0f0f0"}, "title": null}},
                        "y": {"field": "t", "type": "nominal", "sort": null, "scale": {"type": "point", "padding": 0.6}, "axis": {"title": null, "labelFontSize": 5.5, "labelLimit": 200, "tickSize": 2, "labelPadding": 1, "domain": false, "grid": true}},
                        "size": {"field": "n", "type": "quantitative", "scale": {"domain": [0, 37], "range": [0, 28]}},
                        "color": {"field": "p", "type": "quantitative", "scale": {"domain": [0, 0.045, 0.08, 0.125], "range": ["#bf8ff5", "#b5b0bb", "#a5d87a", "#f3d35c"], "interpolate": "rgb"}}
                      }
                    },
                    {
                      "mark": {"type": "point", "opacity": 0},
                      "encoding": {"y": {"field": "t", "type": "nominal", "sort": null, "axis": {"orient": "right", "labels": false, "ticks": false, "grid": false, "domain": true, "domainColor": "#d6d6d6", "domainWidth": 8, "offset": 4, "title": "GenIP", "titleAngle": 90, "titleX": 0, "titleY": 21, "titleAlign": "center", "titleBaseline": "middle", "titleFontSize": 5, "titleColor": "#333333"}}}
                    }
                  ]
                },
                {
                  "width": 100, "height": 132,
                  "data": {"name": "kegg"},
                  "transform": [{"filter": "datum.cat == 'Metab'"}],
                  "resolve": {"axis": {"y": "independent"}},
                  "layer": [
                    {
                      "mark": {"type": "circle", "opacity": 1},
                      "encoding": {
                        "x": {"field": "s", "type": "quantitative", "scale": {"domain": [0, 5], "nice": false}, "axis": {"values": [0,0.5,1,1.5,2,2.5,3,3.5,4,4.5,5], "labelExpr": "datum.value % 1 === 0 ? format(datum.value, 'd') : ''", "labelOverlap": false, "labelFontSize": 6, "labelPadding": 0, "tickSize": 2, "tickOpacity": {"condition": {"test": "datum.value % 1 === 0", "value": 1}, "value": 0}, "domain": false, "grid": true, "gridColor": {"condition": {"test": "datum.value % 1 === 0", "value": "#e2e2e2"}, "value": "#f0f0f0"}, "title": "Enrichment Score", "titleFontSize": 6.5, "titlePadding": 0}},
                        "y": {"field": "t", "type": "nominal", "sort": null, "scale": {"type": "point", "padding": 0.6}, "axis": {"title": null, "labelFontSize": 5.5, "labelLimit": 200, "tickSize": 2, "labelPadding": 1, "domain": false, "grid": true}},
                        "size": {"field": "n", "type": "quantitative", "scale": {"domain": [0, 37], "range": [0, 28]}},
                        "color": {"field": "p", "type": "quantitative", "scale": {"domain": [0, 0.045, 0.08, 0.125], "range": ["#bf8ff5", "#b5b0bb", "#a5d87a", "#f3d35c"], "interpolate": "rgb"}}
                      }
                    },
                    {
                      "mark": {"type": "point", "opacity": 0},
                      "encoding": {"y": {"field": "t", "type": "nominal", "sort": null, "axis": {"orient": "right", "labels": false, "ticks": false, "grid": false, "domain": true, "domainColor": "#d6d6d6", "domainWidth": 8, "offset": 4, "title": "Metab.", "titleAngle": 90, "titleX": 0, "titleY": 66, "titleAlign": "center", "titleBaseline": "middle", "titleFontSize": 5, "titleColor": "#333333"}}}
                    }
                  ]
                }
              ]
            }
          ]
        }
      ]
    },
    {
      "spacing": 17,
      "resolve": {"scale": {"color": "independent"}},
      "hconcat": [
        {
          "spacing": 9,
          "resolve": {"scale": {"color": "independent"}},
          "hconcat": [
            {
              "width": 55, "height": 101,
              "view": {"stroke": "#555555", "strokeWidth": 1.5},
              "data": {"values": [
                {"g":"DegP","k":"COL","v":0},{"g":"DegP","k":"COLLOR","v":-0.2},
                {"g":"PpiA","k":"COL","v":0},{"g":"PpiA","k":"COLLOR","v":-1.15},
                {"g":"DsbA","k":"COL","v":0},{"g":"DsbA","k":"COLLOR","v":-1.1},
                {"g":"Blc","k":"COL","v":0},{"g":"Blc","k":"COLLOR","v":-0.95},
                {"g":"LolA","k":"COL","v":0},{"g":"LolA","k":"COLLOR","v":-1.12},
                {"g":"YbhG","k":"COL","v":0},{"g":"YbhG","k":"COLLOR","v":-1.18},
                {"g":"YhjW","k":"COL","v":0},{"g":"YhjW","k":"COLLOR","v":-0.35}
              ]},
              "mark": {"type": "rect", "stroke": "#333333", "strokeWidth": 1},
              "encoding": {
                "x": {"field": "k", "type": "nominal", "sort": ["COL", "COLLOR"], "axis": {"labelAngle": 0, "labelFontSize": 6, "tickSize": 3, "labelPadding": 2, "domain": false, "title": "Membrane composition", "titleX": 27.5, "titleY": -110, "titleAlign": "center", "titleBaseline": "alphabetic", "titleFontSize": 6, "titleFontWeight": "bold", "titleColor": "#111111"}},
                "y": {"field": "g", "type": "nominal", "sort": null, "axis": {"labelFontSize": 5.5, "tickSize": 2.5, "labelPadding": 1, "domain": false, "title": "d", "titlePadding": 0, "titleX": -6, "titleY": -21, "titleAngle": 0, "titleAlign": "right", "titleBaseline": "alphabetic", "titleFontSize": 12, "titleColor": "#000000"}},
                "color": {"field": "v", "type": "quantitative", "scale": {"domain": [-2, 0], "range": ["#5b9be8", "#ffffff"], "interpolate": "rgb"}, "legend": {"type": "gradient", "gradientLength": 101, "gradientThickness": 10, "offset": 11, "values": [0, -1, -2], "title": "Log₂FC", "titleOrient": "bottom", "titlePadding": 5, "titleFontSize": 6, "titleAnchor": "start", "labelFontSize": 6, "labelOverlap": false, "gradientStrokeColor": "#555555", "gradientStrokeWidth": 1.5}}
              }
            },
            {
              "width": 56, "height": 125,
              "view": {"stroke": "#555555", "strokeWidth": 1.5},
              "data": {"values": [
                {"g":"LsrR","k":"COL","v":0},{"g":"LsrR","k":"COLLOR","v":-1.0},
                {"g":"LsrA","k":"COL","v":0},{"g":"LsrA","k":"COLLOR","v":-1.5},
                {"g":"LsrD","k":"COL","v":0},{"g":"LsrD","k":"COLLOR","v":-2.1},
                {"g":"LsrF","k":"COL","v":0},{"g":"LsrF","k":"COLLOR","v":-2.7},
                {"g":"LsrB","k":"COL","v":0},{"g":"LsrB","k":"COLLOR","v":-3.1},
                {"g":"LsrG","k":"COL","v":0},{"g":"LsrG","k":"COLLOR","v":-3.4},
                {"g":"LsrK","k":"COL","v":0},{"g":"LsrK","k":"COLLOR","v":-3.6},
                {"g":"LsrC","k":"COL","v":0},{"g":"LsrC","k":"COLLOR","v":-4.0}
              ]},
              "mark": {"type": "rect", "stroke": "#333333", "strokeWidth": 1},
              "encoding": {
                "x": {"field": "k", "type": "nominal", "sort": ["COL", "COLLOR"], "axis": {"labelAngle": 0, "labelFontSize": 6, "tickSize": 3, "labelPadding": 2, "domain": false, "title": "AI-2 quorum sensing system", "titleX": 28, "titleY": -134, "titleAlign": "center", "titleBaseline": "alphabetic", "titleFontSize": 6, "titleFontWeight": "bold", "titleColor": "#111111"}},
                "y": {"field": "g", "type": "nominal", "sort": null, "axis": {"labelFontSize": 5.5, "tickSize": 2.5, "labelPadding": 1, "domain": false, "title": null}},
                "color": {"field": "v", "type": "quantitative", "scale": {"domain": [-8, 0], "range": ["#5b9be8", "#ffffff"], "interpolate": "rgb"}, "legend": {"type": "gradient", "gradientLength": 125, "gradientThickness": 12, "offset": 12, "values": [0, -2, -4, -6, -8], "title": "Log₂FC", "titleOrient": "bottom", "titlePadding": 5, "titleFontSize": 6, "titleAnchor": "start", "labelFontSize": 6, "labelOverlap": false, "gradientStrokeColor": "#555555", "gradientStrokeWidth": 1.5}}
              }
            },
            {
              "spacing": 8,
              "resolve": {"scale": {"color": "independent"}},
              "vconcat": [
                {
                  "width": 56, "height": 78,
                  "view": {"stroke": "#555555", "strokeWidth": 1.5},
                  "data": {"values": [
                    {"g":"YdiK","k":"COL","v":0},{"g":"YdiK","k":"COLLOR","v":0.9},
                    {"g":"Crr","k":"COL","v":0},{"g":"Crr","k":"COLLOR","v":-0.7},
                    {"g":"UvrY","k":"COL","v":0},{"g":"UvrY","k":"COLLOR","v":-0.8},
                    {"g":"Fbp","k":"COL","v":0},{"g":"Fbp","k":"COLLOR","v":-1.0},
                    {"g":"FbaB","k":"COL","v":0},{"g":"FbaB","k":"COLLOR","v":-2.0}
                  ]},
                  "mark": {"type": "rect", "stroke": "#333333", "strokeWidth": 1},
                  "encoding": {
                    "x": {"field": "k", "type": "nominal", "sort": ["COL", "COLLOR"], "axis": {"labelAngle": 0, "labelFontSize": 6, "tickSize": 3, "labelPadding": 2, "domain": false, "title": "Biofilm formation", "titleX": 28, "titleY": -87, "titleAlign": "center", "titleBaseline": "alphabetic", "titleFontSize": 6, "titleFontWeight": "bold", "titleColor": "#111111"}},
                    "y": {"field": "g", "type": "nominal", "sort": null, "axis": {"labelFontSize": 5.5, "tickSize": 2.5, "labelPadding": 1, "domain": false, "title": null}},
                    "color": {"field": "v", "type": "quantitative", "scale": {"domain": [-2.5, 0, 1.5], "range": ["#5b9be8", "#ffffff", "#f4b6b6"], "interpolate": "rgb"}, "legend": {"type": "gradient", "gradientLength": 78, "gradientThickness": 8, "offset": 12, "values": [1, 0, -1, -2], "title": "Log₂FC", "titleOrient": "bottom", "titlePadding": 5, "titleFontSize": 6, "titleAnchor": "start", "labelFontSize": 6, "labelOverlap": false, "gradientStrokeColor": "#555555", "gradientStrokeWidth": 1.5}}
                  }
                },
                {
                  "width": 56, "height": 40,
                  "view": {"stroke": "#555555", "strokeWidth": 1.5},
                  "data": {"values": [
                    {"g":"PpsA","k":"COL","v":0},{"g":"PpsA","k":"COLLOR","v":-1.0},
                    {"g":"PfkB","k":"COL","v":0},{"g":"PfkB","k":"COLLOR","v":-1.5},
                    {"g":"GapA","k":"COL","v":0},{"g":"GapA","k":"COLLOR","v":-2.5}
                  ]},
                  "mark": {"type": "rect", "stroke": "#333333", "strokeWidth": 1},
                  "encoding": {
                    "x": {"field": "k", "type": "nominal", "sort": ["COL", "COLLOR"], "axis": {"labelAngle": 0, "labelFontSize": 6, "tickSize": 3, "labelPadding": 2, "domain": false, "title": "Glycolysis/Gluconeogenesis", "titleX": 26, "titleY": -47, "titleAlign": "center", "titleBaseline": "alphabetic", "titleFontSize": 6, "titleFontWeight": "bold", "titleColor": "#111111"}},
                    "y": {"field": "g", "type": "nominal", "sort": null, "axis": {"labelFontSize": 5.5, "tickSize": 2.5, "labelPadding": 1, "domain": false, "title": null}},
                    "color": {"field": "v", "type": "quantitative", "scale": {"domain": [-3.6, 0], "range": ["#5b9be8", "#ffffff"], "interpolate": "rgb"}, "legend": {"type": "gradient", "gradientLength": 40, "gradientThickness": 8, "offset": 12, "values": [0, -1.5, -3], "labelExpr": "datum.value == 0 ? '0' : format(datum.value, '.1f')", "title": "Log₂FC", "titleOrient": "bottom", "titlePadding": 5, "titleFontSize": 6, "titleAnchor": "start", "labelFontSize": 6, "labelOverlap": false, "gradientStrokeColor": "#555555", "gradientStrokeWidth": 1.5}}
                  }
                }
              ]
            },
            {
              "width": 48, "height": 117,
              "view": {"stroke": "#555555", "strokeWidth": 1.5},
              "data": {"values": [
                {"g":"IcdA","k":"COL","v":0},{"g":"IcdA","k":"COLLOR","v":-0.8},
                {"g":"FrdA","k":"COL","v":0},{"g":"FrdA","k":"COLLOR","v":-0.95},
                {"g":"FrdB","k":"COL","v":0},{"g":"FrdB","k":"COLLOR","v":-1.0},
                {"g":"FumB","k":"COL","v":0},{"g":"FumB","k":"COLLOR","v":-1.05},
                {"g":"FrdD","k":"COL","v":0},{"g":"FrdD","k":"COLLOR","v":-1.1},
                {"g":"FumC","k":"COL","v":0},{"g":"FumC","k":"COLLOR","v":-1.25},
                {"g":"Mdh","k":"COL","v":0},{"g":"Mdh","k":"COLLOR","v":-1.45},
                {"g":"AcnA","k":"COL","v":0},{"g":"AcnA","k":"COLLOR","v":-1.55}
              ]},
              "mark": {"type": "rect", "stroke": "#333333", "strokeWidth": 1},
              "encoding": {
                "x": {"field": "k", "type": "nominal", "sort": ["COL", "COLLOR"], "axis": {"labelAngle": 0, "labelFontSize": 6, "tickSize": 3, "labelPadding": 2, "domain": false, "title": "Citrate cycle (TCA cycle)", "titleX": 22, "titleY": -126, "titleAlign": "center", "titleBaseline": "alphabetic", "titleFontSize": 6, "titleFontWeight": "bold", "titleColor": "#111111"}},
                "y": {"field": "g", "type": "nominal", "sort": null, "axis": {"labelFontSize": 5.5, "tickSize": 4, "labelPadding": 2.5, "domain": false, "title": null}},
                "color": {"field": "v", "type": "quantitative", "scale": {"domain": [-2.4, 0], "range": ["#5b9be8", "#ffffff"], "interpolate": "rgb"}, "legend": {"type": "gradient", "gradientLength": 117, "gradientThickness": 11, "offset": 11, "values": [0, -0.5, -1, -1.5, -2], "labelExpr": "datum.value == 0 ? '0' : format(datum.value, '.1f')", "title": "Log₂FC", "titleOrient": "bottom", "titlePadding": 5, "titleFontSize": 6, "titleAnchor": "start", "labelFontSize": 6, "labelOverlap": false, "gradientStrokeColor": "#555555", "gradientStrokeWidth": 1.5}}
              }
            }
          ]
        },
        {
          "width": 190, "height": 106,
          "view": {"stroke": null},
          "resolve": {"scale": {"xOffset": "independent"}},
          "layer": [
            {
              "data": {"values": [
                {"g":"eptA","grp":"COL","m":1.007,"lo":0.995,"hi":1.019},
                {"g":"eptA","grp":"COL + LOR","m":0.927,"lo":0.883,"hi":0.971},
                {"g":"eptB","grp":"COL","m":1.007,"lo":0.995,"hi":1.019},
                {"g":"eptB","grp":"COL + LOR","m":0.608,"lo":0.567,"hi":0.649},
                {"g":"pmrB","grp":"COL","m":1.01,"lo":0.985,"hi":1.035},
                {"g":"pmrB","grp":"COL + LOR","m":0.619,"lo":0.551,"hi":0.687},
                {"g":"pmrD","grp":"COL","m":1.0,"lo":0.995,"hi":1.005},
                {"g":"pmrD","grp":"COL + LOR","m":0.52,"lo":0.486,"hi":0.554}
              ]},
              "layer": [
                {
                  "mark": {"type": "bar"},
                  "encoding": {
                    "x": {"field": "g", "type": "nominal", "sort": ["eptA", "eptB", "pmrB", "pmrD"], "scale": {"paddingInner": 0, "paddingOuter": 0}, "axis": {"title": "e", "titleX": -48, "titleY": -138, "titleAngle": 0, "titleAlign": "left", "titleBaseline": "alphabetic", "titleFontSize": 12, "titleColor": "#000000", "labelFontSize": 6.5, "labelFontStyle": "italic", "labelColor": "#222222", "labelAngle": 0, "domainColor": "#222222", "domainWidth": 1.5, "tickColor": "#222222", "tickWidth": 1.2, "tickSize": 4, "offset": 12, "labelPadding": 2}},
                    "xOffset": {"field": "grp", "type": "nominal", "scale": {"domain": ["COL", "COL + LOR"], "paddingInner": 0.176, "paddingOuter": 0.485}},
                    "y": {"field": "m", "type": "quantitative", "scale": {"domain": [0, 1.5], "nice": false}, "axis": {"values": [0, 0.5, 1, 1.5], "format": ".1f", "title": "Relative mRNA expression", "titleFontSize": 6.5, "labelFontSize": 6.5, "labelColor": "#222222", "domainColor": "#222222", "domainWidth": 1.2, "tickColor": "#222222", "tickWidth": 1.2, "tickSize": 3, "offset": 10, "grid": false, "titlePadding": 4}},
                    "color": {"field": "grp", "type": "nominal", "scale": {"domain": ["COL", "COL + LOR"], "range": ["#dcdcf0", "#f2ddb4"]}, "legend": {"orient": "none", "legendX": 31, "legendY": -10, "direction": "horizontal", "title": null, "symbolType": "M-1,-0.3L1,-0.3L1,0.3L-1,0.3Z", "symbolSize": 170, "symbolStrokeWidth": 0, "labelFontSize": 6.5, "labelColor": "#222222", "columnPadding": 42, "labelOffset": 6}}
                  }
                },
                {
                  "mark": {"type": "rule", "color": "#111111", "strokeWidth": 0.8},
                  "encoding": {
                    "x": {"field": "g", "type": "nominal", "sort": ["eptA", "eptB", "pmrB", "pmrD"]},
                    "xOffset": {"field": "grp", "type": "nominal", "scale": {"domain": ["COL", "COL + LOR"], "paddingInner": 0.176, "paddingOuter": 0.485}},
                    "y": {"field": "lo", "type": "quantitative"},
                    "y2": {"field": "hi"}
                  }
                },
                {
                  "mark": {"type": "tick", "color": "#111111", "thickness": 0.8, "size": 6},
                  "encoding": {
                    "x": {"field": "g", "type": "nominal", "sort": ["eptA", "eptB", "pmrB", "pmrD"]},
                    "xOffset": {"field": "grp", "type": "nominal", "scale": {"domain": ["COL", "COL + LOR"], "paddingInner": 0.176, "paddingOuter": 0.485}},
                    "y": {"field": "hi", "type": "quantitative"}
                  }
                }
              ]
            },
            {
              "data": {"values": [
                {"g":"eptA","r":"c1","v":1.0},{"g":"eptA","r":"c2","v":1.02},{"g":"eptA","r":"c3","v":1.0},{"g":"eptA","r":"l1","v":0.96},{"g":"eptA","r":"l2","v":0.877},{"g":"eptA","r":"l3","v":0.943},
                {"g":"eptB","r":"c1","v":1.0},{"g":"eptB","r":"c2","v":1.02},{"g":"eptB","r":"c3","v":1.0},{"g":"eptB","r":"l1","v":0.637},{"g":"eptB","r":"l2","v":0.561},{"g":"eptB","r":"l3","v":0.627},
                {"g":"pmrB","r":"c1","v":0.99},{"g":"pmrB","r":"c2","v":1.04},{"g":"pmrB","r":"c3","v":1.0},{"g":"pmrB","r":"l1","v":0.58},{"g":"pmrB","r":"l2","v":0.698},{"g":"pmrB","r":"l3","v":0.58},
                {"g":"pmrD","r":"c1","v":1.0},{"g":"pmrD","r":"c2","v":1.0},{"g":"pmrD","r":"c3","v":1.0},{"g":"pmrD","r":"l1","v":0.542},{"g":"pmrD","r":"l2","v":0.481},{"g":"pmrD","r":"l3","v":0.538}
              ]},
              "mark": {"type": "point", "shape": "circle", "filled": false, "stroke": "#111111", "strokeWidth": 0.7, "size": 14},
              "encoding": {
                "x": {"field": "g", "type": "nominal", "sort": ["eptA", "eptB", "pmrB", "pmrD"]},
                "xOffset": {"field": "r", "type": "nominal", "scale": {"domain": ["c1", "c2", "c3", "l1", "l2", "l3"], "paddingInner": 0, "paddingOuter": 1.318}},
                "y": {"field": "v", "type": "quantitative"}
              }
            },
            {
              "data": {"values": [{"g":"eptA","s":"*"},{"g":"eptB","s":"****"},{"g":"pmrB","s":"****"},{"g":"pmrD","s":"****"}]},
              "layer": [
                {
                  "transform": [{"filter": "datum.g == 'eptA' || datum.g == 'eptB'"}],
                  "mark": {"type": "tick", "color": "#999999", "thickness": 1, "size": 28},
                  "encoding": {"x": {"field": "g", "type": "nominal", "sort": ["eptA", "eptB", "pmrB", "pmrD"]}, "y": {"datum": 1.19}}
                },
                {
                  "transform": [{"filter": "datum.g == 'pmrB' || datum.g == 'pmrD'"}],
                  "mark": {"type": "tick", "color": "#333333", "thickness": 1, "size": 28},
                  "encoding": {"x": {"field": "g", "type": "nominal", "sort": ["eptA", "eptB", "pmrB", "pmrD"]}, "y": {"datum": 1.19}}
                },
                {
                  "mark": {"type": "text", "fontSize": 8, "color": "#111111", "baseline": "alphabetic"},
                  "encoding": {"x": {"field": "g", "type": "nominal", "sort": ["eptA", "eptB", "pmrB", "pmrD"]}, "y": {"datum": 1.205}, "text": {"field": "s"}}
                }
              ]
            }
          ]
        }
      ]
    }
  ]
}
